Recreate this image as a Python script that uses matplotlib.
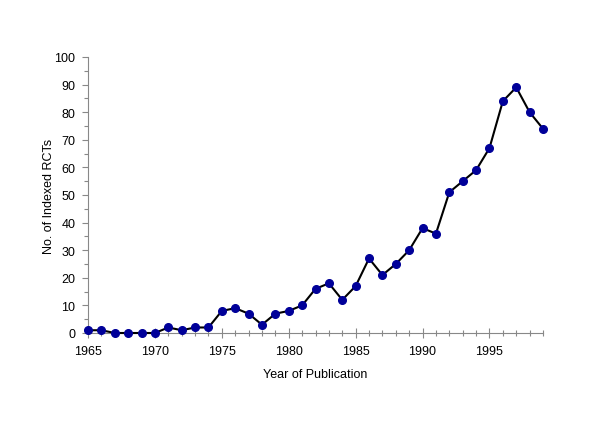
import matplotlib
matplotlib.use("Agg")
import matplotlib.pyplot as plt
from matplotlib.ticker import MultipleLocator

years = list(range(1965, 2000))
counts = [1, 1, 0, 0, 0, 0, 2, 1, 2, 2, 8, 9, 7, 3, 7, 8, 10, 16, 18, 12,
          17, 27, 21, 25, 30, 38, 36, 51, 55, 59, 67, 84, 89, 80, 74]

plt.rcParams['font.family'] = ['Liberation Sans', 'DejaVu Sans']

fig = plt.figure(figsize=(6, 4.35), dpi=100)
ax = fig.add_axes([88/600, 1-334/435, (543-88)/600, (334-58)/435])
ax.plot(years, counts, color='black', lw=1.5, marker='o', ms=5.5,
        markerfacecolor='#000099', markeredgecolor='#000099', clip_on=False, zorder=3)
ax.set_xlim(1965, 1999)
ax.set_ylim(0, 100)
ax.xaxis.set_major_locator(MultipleLocator(5))
ax.xaxis.set_minor_locator(MultipleLocator(1))
ax.yaxis.set_major_locator(MultipleLocator(10))
ax.yaxis.set_minor_locator(MultipleLocator(5))
for s in ['top', 'right']:
    ax.spines[s].set_visible(False)
for s in ['left', 'bottom']:
    ax.spines[s].set_color('#888888')
    ax.spines[s].set_linewidth(0.8)
ax.tick_params(axis='x', which='major', direction='inout', length=7, width=0.8, color='#888888', labelsize=9, pad=5)
ax.tick_params(axis='x', which='minor', direction='inout', length=4, width=0.8, color='#888888')
ax.tick_params(axis='y', which='major', direction='out', length=4, width=0.8, color='#888888', labelsize=9, pad=5)
ax.tick_params(axis='y', which='minor', direction='out', length=3, width=0.8, color='#888888')
ax.set_xlabel('Year of Publication', fontsize=9, labelpad=8)
ax.set_ylabel('No. of Indexed RCTs', fontsize=9)
ax.yaxis.set_label_coords(-0.072, 0.5)
fig.savefig('out.png', dpi=100)
